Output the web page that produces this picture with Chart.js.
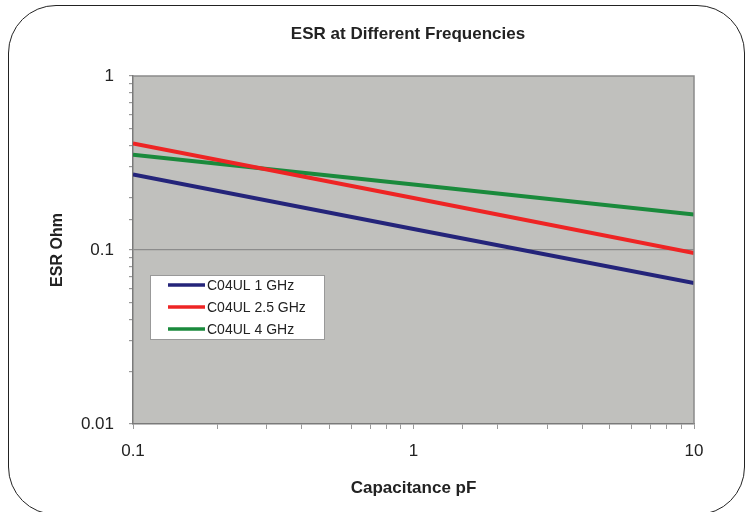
<!DOCTYPE html>
<html>
<head>
<meta charset="utf-8">
<script src="https://cdn.jsdelivr.net/npm/chart.js@4.4.0/dist/chart.umd.min.js"></script>
<style>
  body { margin: 0; background: #fff; }
  #wrap { position: relative; width: 754px; height: 512px; overflow: hidden; background: #fff; }
  #frame { position: absolute; left: 8px; top: 5px; width: 735px; height: 508px;
           border: 1.5px solid #222; border-radius: 48px; pointer-events: none; }
  canvas { position: absolute; left: 0; top: 0; }
</style>
</head>
<body>
<div id="wrap">
  <canvas id="esrChart" width="754" height="512"></canvas>
  <div id="frame"></div>
</div>
<script>
// --- data ---
const capacitance = [0.1, 1, 10];                 // pF
const esr1GHz  = [0.272, 0.132, 0.0645];          // Ohm
const esr25GHz = [0.41, 0.199, 0.096];
const esr4GHz  = [0.353, 0.238, 0.16];
const seriesNames = ['C04UL 1 GHz', 'C04UL 2.5 GHz', 'C04UL 4 GHz'];
const seriesColors = ['#24247a', '#ee2424', '#1a8a3c'];
const xTickLabels = ['0.1', '1', '10'];
const yTickLabels = ['0.01', '0.1', '1'];
const chartTitle = 'ESR at Different Frequencies';

const FONT = 'Arial, "Liberation Sans", sans-serif';

function toPoints(ys) {
    return capacitance.map((c, i) => ({ x: c, y: ys[i] }));
}

function decadeLabel(v, list) {
    const s = String(Number(v.toPrecision(3)));
    return list.includes(s) ? s : '';
}

// grey plot area + top/right border + title
const plotBox = {
    id: 'plotBox',
    beforeDraw(chart) {
        const { ctx, chartArea: a } = chart;
        ctx.save();
        ctx.fillStyle = '#c0c0bd';
        ctx.fillRect(a.left, a.top, a.right - a.left, a.bottom - a.top);
        ctx.restore();
    },
    afterDraw(chart) {
        const { ctx, chartArea: a } = chart;
        ctx.save();
        ctx.strokeStyle = '#8a8a8a';
        ctx.lineWidth = 1.5;
        ctx.beginPath();
        ctx.moveTo(a.left, a.top);
        ctx.lineTo(a.right, a.top);
        ctx.lineTo(a.right, a.bottom);
        ctx.stroke();
        // chart title sits roughly over the plot centre
        ctx.fillStyle = '#222';
        ctx.font = 'bold 17px ' + FONT;
        ctx.textAlign = 'center';
        ctx.textBaseline = 'middle';
        ctx.fillText(chartTitle, 408, 34);
        ctx.restore();
    }
};

// legend box inside the plot, like the Excel one
const boxLegend = {
    id: 'boxLegend',
    afterDraw(chart) {
        const { ctx } = chart;
        const x = 150, y = 275, w = 174, h = 64, rowH = 22;
        ctx.save();
        ctx.fillStyle = '#fff';
        ctx.fillRect(x, y, w, h);
        ctx.strokeStyle = '#999';
        ctx.lineWidth = 1;
        ctx.strokeRect(x + 0.5, y + 0.5, w, h);
        chart.data.datasets.forEach((ds, i) => {
            const ry = y + 10 + i * rowH;
            ctx.strokeStyle = ds.borderColor;
            ctx.lineWidth = 3.5;
            ctx.beginPath();
            ctx.moveTo(168, ry);
            ctx.lineTo(205, ry);
            ctx.stroke();
            ctx.fillStyle = '#222';
            ctx.font = '14px ' + FONT;
            ctx.textBaseline = 'middle';
            ctx.fillText(ds.label, 207, ry + 1);
        });
        ctx.restore();
    }
};

new Chart(document.getElementById('esrChart'), {
    type: 'line',
    data: {
        datasets: [
            { label: seriesNames[0], data: toPoints(esr1GHz),  borderColor: seriesColors[0] },
            { label: seriesNames[1], data: toPoints(esr25GHz), borderColor: seriesColors[1] },
            { label: seriesNames[2], data: toPoints(esr4GHz),  borderColor: seriesColors[2] }
        ]
    },
    options: {
        responsive: false,
        devicePixelRatio: 1,
        animation: false,
        layout: { padding: { left: 0, right: 60, top: 76, bottom: 0 } },
        elements: {
            line: { borderWidth: 4, tension: 0 },
            point: { radius: 0 }
        },
        scales: {
            x: {
                type: 'logarithmic',
                min: 0.1, max: 10,
                border: { display: true, color: '#7a7a7a', width: 1.5 },
                grid: { drawOnChartArea: false, tickLength: 5, tickColor: '#999' },
                ticks: {
                    autoSkip: false, maxRotation: 0, padding: 12,
                    color: '#222', font: { family: FONT, size: 17 },
                    callback: v => decadeLabel(v, xTickLabels)
                },
                title: {
                    display: true, text: 'Capacitance pF', color: '#222',
                    font: { family: FONT, size: 17, weight: 'bold' },
                    padding: { top: 0, bottom: 13 }
                },
                afterFit(scale) { scale.height = 88; }
            },
            y: {
                type: 'logarithmic',
                min: 0.01, max: 1,
                border: { display: true, color: '#7a7a7a', width: 1.5 },
                grid: {
                    tickLength: 4, tickColor: '#999', lineWidth: 1.2,
                    color: c => (c.tick && Math.abs(c.tick.value - 0.1) < 1e-9) ? '#8c8c8c' : 'transparent'
                },
                ticks: {
                    autoSkip: false, padding: 15,
                    color: '#222', font: { family: FONT, size: 17 },
                    callback: v => decadeLabel(v, yTickLabels)
                },
                title: {
                    display: true, text: 'ESR Ohm', color: '#222',
                    font: { family: FONT, size: 16, weight: 'bold' },
                    padding: { top: 48, bottom: 0 }
                },
                afterFit(scale) { scale.width = 133; }
            }
        },
        plugins: {
            legend: { display: false },
            tooltip: { enabled: false },
            title: { display: false }
        }
    },
    plugins: [plotBox, boxLegend]
});
</script>
</body>
</html>
